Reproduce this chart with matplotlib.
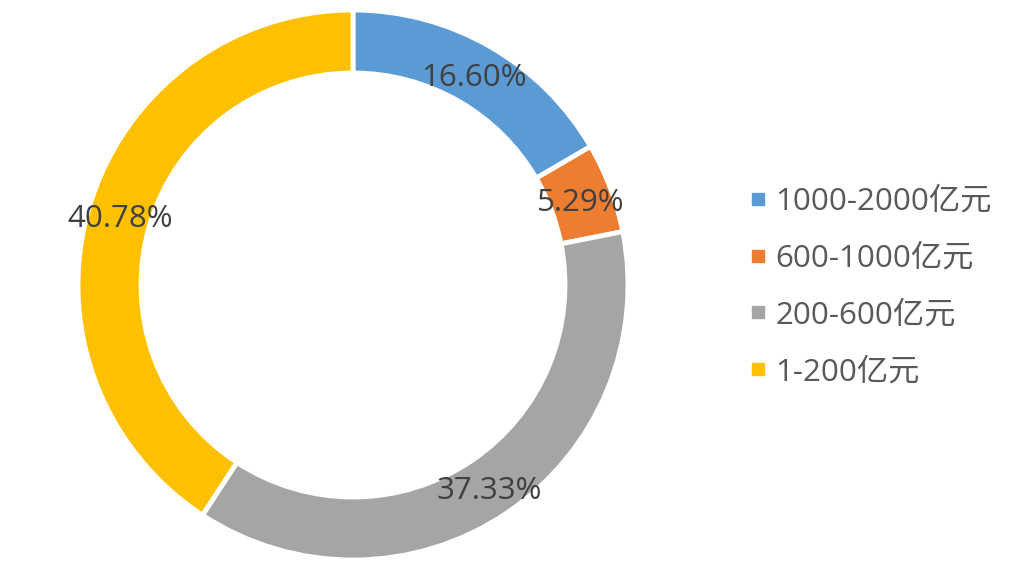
import matplotlib.pyplot as plt
from matplotlib.lines import Line2D

plt.rcParams['font.family'] = ['Open Sans', 'Noto Sans CJK SC', 'DejaVu Sans']

# Data
categories = ['1000-2000亿元', '600-1000亿元', '200-600亿元', '1-200亿元']
shares = [16.60, 5.29, 37.33, 40.78]
colors = ['#5B9BD5', '#ED7D31', '#A5A5A5', '#FFC000']

W, H = 1018, 576
fig = plt.figure(figsize=(W / 100, H / 100), dpi=100)

# donut placed in pixel terms: center (353, 285), outer radius 275
cx, cy, R = 353, 285, 275
ax = fig.add_axes([(cx - R) / W, (H - cy - R) / H, 2 * R / W, 2 * R / H])

ring = 63 / R
wedges, texts, autotexts = ax.pie(
    shares, colors=colors, startangle=90, counterclock=False, radius=1,
    autopct=lambda p: f'{p:.2f}%', pctdistance=1 - ring / 2,
    wedgeprops=dict(width=ring, edgecolor='white', linewidth=3.5),
    textprops=dict(fontsize=22.5, color='#404040'))
# nudge labels down a few pixels
for t in autotexts:
    x, y = t.get_position()
    t.set_position((x, y - 4 / R))
ax.set_xlim(-1, 1)
ax.set_ylim(-1, 1)
ax.set_aspect('equal')
ax.axis('off')

handles = [Line2D([], [], marker='s', linestyle='none', markersize=9,
                  markerfacecolor=c, markeredgecolor=c) for c in colors]
fig.legend(handles, categories, loc='upper left', bbox_to_anchor=(733 / W, 1 - 171 / H),
           frameon=False, fontsize=22.5, labelcolor='#595959', handlelength=0.6,
           handletextpad=0.25, labelspacing=0.86, borderpad=0)

fig.savefig('out.png', dpi=100, facecolor='white')
